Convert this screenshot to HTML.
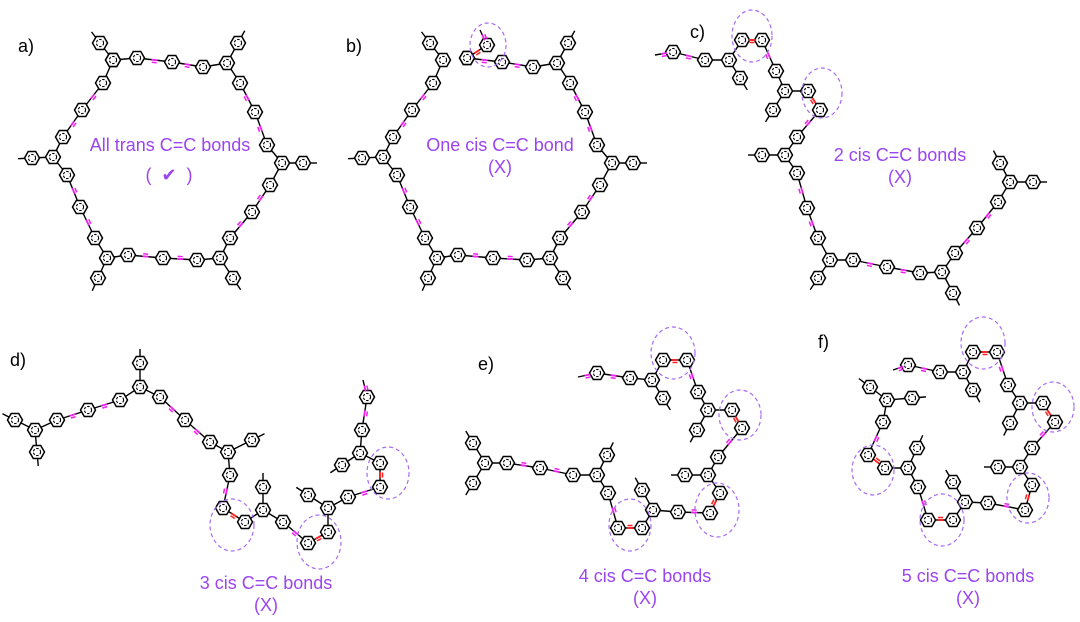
<!DOCTYPE html>
<html><head><meta charset="utf-8"><style>
body{margin:0;background:#fff;width:1080px;height:622px;overflow:hidden;position:relative;font-family:"Liberation Sans",sans-serif}
svg{position:absolute;left:0;top:0}
.lab{position:absolute;font-size:18px;color:#000}
.pt{position:absolute;font-size:18px;color:#9b45f0;transform:translateX(-50%);white-space:nowrap}
</style></head><body>
<svg id="s" width="1080" height="622" viewBox="0 0 1080 622"></svg>
<div class="lab" style="left:18px;top:36px">a)</div>
<div class="lab" style="left:346px;top:36px">b)</div>
<div class="lab" style="left:690px;top:22px">c)</div>
<div class="lab" style="left:10px;top:350px">d)</div>
<div class="lab" style="left:478px;top:354px">e)</div>
<div class="lab" style="left:818px;top:332px">f)</div>
<div class="pt" style="left:170px;top:135px">All trans C=C bonds</div>
<div class="pt" style="left:169px;top:165px">(&nbsp;&nbsp;✔&nbsp;&nbsp;)</div>
<div class="pt" style="left:500px;top:135px">One cis C=C bond</div>
<div class="pt" style="left:500px;top:157px">(X)</div>
<div class="pt" style="left:900px;top:145px">2 cis C=C bonds</div>
<div class="pt" style="left:900px;top:167px">(X)</div>
<div class="pt" style="left:266px;top:573px">3 cis C=C bonds</div>
<div class="pt" style="left:266px;top:595px">(X)</div>
<div class="pt" style="left:645px;top:566px">4 cis C=C bonds</div>
<div class="pt" style="left:645px;top:588px">(X)</div>
<div class="pt" style="left:968px;top:566px">5 cis C=C bonds</div>
<div class="pt" style="left:968px;top:588px">(X)</div>
<script>
var s=document.getElementById('s'),NS='http://www.w3.org/2000/svg';
var L1=[],L2=[],L3=[];
function el(g,t,a){var e=document.createElementNS(NS,t);for(var k in a)e.setAttribute(k,a[k]);g.push(e);}
function ring(x,y){var r=7.5,p=[];for(var i=0;i<6;i++){var a=Math.PI/3*i;p.push((x+r*Math.cos(a)).toFixed(1)+','+(y+r*Math.sin(a)).toFixed(1));}
el(L2,'polygon',{points:p.join(' '),fill:'#fff',stroke:'#000','stroke-width':1.5});
el(L2,'circle',{cx:x,cy:y,r:3.6,fill:'none',stroke:'#000','stroke-width':1.1,'stroke-dasharray':'2.5 1.5'});}
function link(a,b,t){el(L1,'line',{x1:a[0],y1:a[1],x2:b[0],y2:b[1],stroke:'#000','stroke-width':1.4});
if(t!='-'){var dx=b[0]-a[0],dy=b[1]-a[1],d=Math.hypot(dx,dy),ux=dx/d,uy=dy/d,nx=-uy*2.5,ny=ux*2.5,mx=(a[0]+b[0])/2,my=(a[1]+b[1])/2;
var c=t=='r'?'#ff2020':'#f020f0';
el(L3,'line',{x1:mx-ux*3,y1:my-uy*3,x2:mx+ux*3,y2:my+uy*3,stroke:c,'stroke-width':1.8});
el(L3,'line',{x1:mx-ux*2.5+nx,y1:my-uy*2.5+ny,x2:mx+ux*2.5+nx,y2:my+uy*2.5+ny,stroke:c,'stroke-width':1.5});}}
function chain(a,dx,dy){dx=dx||0;dy=dy||0;for(var i=0;i<a.length;i+=2){var p=a[i];var q=[p[0]+dx,p[1]+dy];if(!p[2])ring(q[0],q[1]);
if(i+2<a.length){var n=a[i+2];link(q,[n[0]+dx,n[1]+dy],a[i+1]);}}}
function pend(c,r,dx,dy){dx=dx||0;dy=dy||0;var a=[c[0]+dx,c[1]+dy],b=[r[0]+dx,r[1]+dy];link(a,b,'-');ring(b[0],b[1]);
var vx=b[0]-a[0],vy=b[1]-a[1],d=Math.hypot(vx,vy);el(L1,'line',{x1:b[0],y1:b[1],x2:b[0]+vx/d*14,y2:b[1]+vy/d*14,stroke:'#000','stroke-width':1.4});}
function circ(x,y,rx,ry){el(L3,'ellipse',{cx:x,cy:y,rx:rx,ry:ry,fill:'none',stroke:'#a86af5','stroke-width':1.2,'stroke-dasharray':'4 3'});}
var A=[[113,60],'-',[137,58],'=',[172,62],'=',[203,67],'-',[227,63],'-',[240,83],'=',[255,112],'=',[267,145],'-',[282,163],'-',[270,185],'=',[252,212],'=',[230,238],'-',[220,258],'-',[197,260],'=',[163,258],'=',[128,255],'-',[107,258],'-',[95,238],'=',[80,207],'=',[67,175],'-',[53,157],'-',[63,137],'=',[82,110],'=',[103,83],'-',[113,60]];
var AP=[[[113,60],[100,43]],[[227,63],[238,43]],[[282,163],[303,163]],[[220,258],[233,278]],[[107,258],[98,278]],[[53,157],[32,158]]];
chain(A);AP.forEach(function(p){pend(p[0],p[1]);});
chain(A.slice(2),330,0);
chain([[137,58],'r',[157,45],'=',[150,30,1]],330,0);
AP.forEach(function(p){pend(p[0],p[1],330,0);});
circ(488,45,18,22);
chain([[655,55,1],'=',[673,52],'=',[705,60],'-',[729,60],'-',[742,40],'r',[762,40],'=',[776,71],'-',[785,91],'-',[808,91],'r',[820,110],'=',[797,137],'-',[785,155],'-',[797,173],'=',[807,208],'=',[818,238],'-',[830,260],'-',[853,260],'=',[887,267],'=',[920,273],'-',[942,272],'-',[955,253],'=',[977,228],'=',[998,202],'-',[1010,182]]);
[[[729,60],[740,78]],[[785,91],[773,110]],[[785,155],[762,155]],[[830,260],[818,278]],[[942,272],[953,293]],[[1010,182],[1033,182]],[[1010,182],[1000,163]]].forEach(function(p){pend(p[0],p[1]);});
circ(752,36,20,26);circ(822,93,20,25);
chain([[35,430],'-',[57,420],'=',[88,410],'=',[120,400],'-',[140,387],'-',[160,397],'=',[185,420],'=',[210,442],'-',[228,452],'-',[230,475],'=',[223,508],'r',[245,522],'-',[263,510],'-',[283,522],'=',[308,543],'r',[328,532],'-',[328,508],'-',[348,497],'=',[380,487],'r',[380,463],'-',[360,453],'-',[362,430],'=',[367,397],'=',[363,380,1]]);
[[[140,387],[140,363]],[[228,452],[252,440]],[[263,510],[263,487]],[[328,508],[308,495]],[[360,453],[342,465]],[[35,430],[15,420]],[[35,430],[37,452]]].forEach(function(p){pend(p[0],p[1]);});
circ(232,525,22,26);circ(319,542,22,27);circ(388,473,21,26);
chain([[578,377,1],'=',[597,373],'=',[630,378],'-',[652,380],'-',[663,360],'r',[687,360],'=',[698,392],'-',[708,410],'-',[732,410],'r',[742,428],'=',[718,457],'-',[708,475],'-',[720,493],'r',[710,513],'=',[678,512],'-',[653,510],'-',[642,528],'r',[618,528],'=',[608,493],'-',[597,475],'-',[573,475],'=',[540,468],'=',[507,463],'-',[485,463]]);
[[[652,380],[663,398]],[[708,410],[697,430]],[[708,475],[685,475]],[[653,510],[642,490]],[[597,475],[607,455]],[[485,463],[473,443]],[[485,463],[473,483]]].forEach(function(p){pend(p[0],p[1]);});
circ(673,353,22,26);circ(740,415,21,25);circ(717,510,22,27);circ(630,525,21,26);
chain([[893,370,1],'=',[908,365],'=',[940,372],'-',[963,372],'-',[973,352],'r',[997,352],'=',[1008,385],'-',[1020,403],'-',[1043,403],'r',[1055,422],'=',[1032,448],'-',[1020,467],'-',[1032,485],'r',[1025,510],'=',[988,503],'-',[965,502],'-',[953,520],'r',[928,520],'=',[918,487],'-',[908,468],'-',[885,468],'r',[868,455],'=',[883,422],'-',[887,400]]);
[[[963,372],[973,390]],[[1020,403],[1010,423]],[[1020,467],[998,467]],[[965,502],[953,482]],[[908,468],[917,448]],[[887,400],[870,387]],[[887,400],[912,398]]].forEach(function(p){pend(p[0],p[1]);});
circ(983,343,22,26);circ(1053,407,21,25);circ(1028,498,21,25);circ(942,520,22,26);circ(873,470,21,25);
L1.concat(L2,L3).forEach(function(e){s.appendChild(e);});
</script>
</body></html>
